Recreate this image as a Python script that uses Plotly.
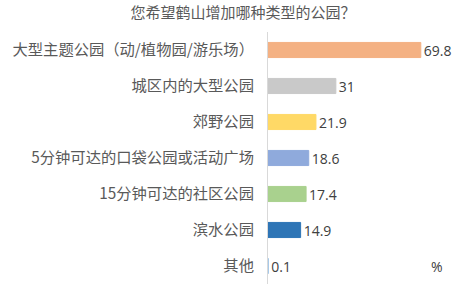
import plotly.graph_objects as go

categories = ["大型主题公园（动/植物园/游乐场）", "城区内的大型公园", "郊野公园",
              "5分钟可达的口袋公园或活动广场", "15分钟可达的社区公园", "滨水公园", "其他"]
values = [69.8, 31, 21.9, 18.6, 17.4, 14.9, 0.1]
value_labels = ["69.8", "31", "21.9", "18.6", "17.4", "14.9", "0.1"]
colors = ["#F4B183", "#C9C9C9", "#FFD966", "#8FAADC", "#A9D18E", "#2E75B6", "#9DC3E6"]
title = "您希望鹤山增加哪种类型的公园？"
unit = "%"

fig = go.Figure(go.Bar(
    x=values, y=categories, orientation="h",
    marker=dict(color=colors, line=dict(color=colors, width=1)),
    width=0.42,
    text=value_labels, textposition="outside", cliponaxis=False, constraintext="none",
    textfont=dict(family="Open Sans, Noto Sans CJK SC", size=14, color="#404040"),
))
fig.update_layout(
    width=454, height=289,
    margin=dict(l=268, r=10, t=32, b=5),
    paper_bgcolor="white", plot_bgcolor="white",
    showlegend=False,
    title=dict(text=title, x=0.535, xanchor="center", y=0.955, yanchor="middle",
               font=dict(family="Noto Sans CJK SC", size=15, color="#595959")),
    xaxis=dict(range=[0, 80.4], visible=False, fixedrange=True),
    yaxis=dict(autorange="reversed", showline=True, linecolor="#D9D9D9", linewidth=1,
               ticks="", showgrid=False, ticklabelstandoff=10,
               tickfont=dict(family="Noto Sans CJK SC", size=15.3, color="#595959")),
    annotations=[dict(text=unit, xref="paper", yref="y", x=0.96, y=categories[-1],
                      showarrow=False, xanchor="center",
                      font=dict(family="Open Sans", size=14, color="#404040"))],
)
fig.write_html("out.html")
